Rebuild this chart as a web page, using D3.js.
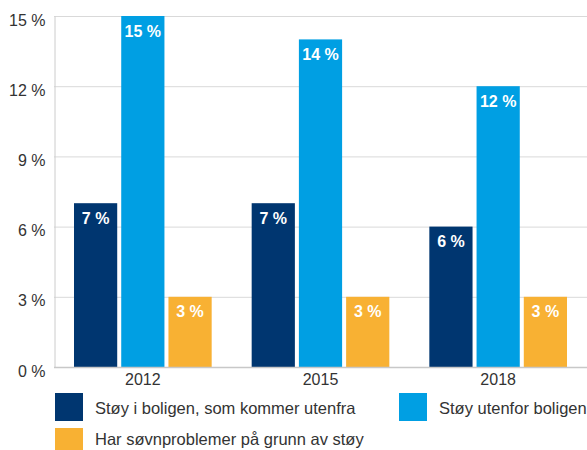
<!DOCTYPE html>
<html>
<head>
<meta charset="utf-8">
<script src="https://cdn.jsdelivr.net/npm/d3@7"></script>
<style>
  html, body { margin: 0; padding: 0; background: #fff; }
  svg { display: block; font-family: "Liberation Sans", Arial, sans-serif; }
</style>
</head>
<body>
<svg id="chart" width="587" height="450"></svg>
<script>
const years = ["2012", "2015", "2018"];
const seriesNames = [
  "Støy i boligen, som kommer utenfra",
  "Støy utenfor boligen",
  "Har søvnproblemer på grunn av støy"
];
const indoorNoise = [7, 7, 6];
const outdoorNoise = [15, 14, 12];
const sleepProblems = [3, 3, 3];
const yTicks = [0, 3, 6, 9, 12, 15];
const colors = ["#003670", "#009FE3", "#F8B133"];

const seriesValues = [indoorNoise, outdoorNoise, sleepProblems];

const svg = d3.select("#chart");
const margin = { left: 54, right: 0, top: 16, bottom: 83 };
const W = 587, H = 450;
const FONT = "Liberation Sans, Arial, sans-serif";

const x = d3.scaleBand().domain(years).range([margin.left, W - margin.right]).paddingInner(0).paddingOuter(0);
const xInner = d3.scaleBand().domain(d3.range(3)).range([20, x.bandwidth() - 20]).paddingInner(0.085);
const y = d3.scaleLinear().domain([0, 15]).range([H - margin.bottom, margin.top]);

// grid
svg.append("g").selectAll("line").data(yTicks.filter(d => d > 0)).join("line")
  .attr("x1", margin.left).attr("x2", W)
  .attr("y1", d => y(d) + 0.5).attr("y2", d => y(d) + 0.5)
  .attr("stroke", "#d9d9d9").attr("stroke-width", 1);

// bars with value labels
const groups = svg.append("g").selectAll("g").data(years).join("g")
  .attr("transform", d => `translate(${x(d)},0)`);

groups.each(function(yr, i) {
  const g = d3.select(this);
  seriesValues.forEach((vals, s) => {
    const v = vals[i];
    g.append("rect")
      .attr("x", xInner(s)).attr("width", xInner.bandwidth())
      .attr("y", y(v)).attr("height", y(0) - y(v))
      .attr("fill", colors[s]);
    g.append("text")
      .attr("x", xInner(s) + xInner.bandwidth() / 2)
      .attr("y", y(v) + 20.5)
      .attr("text-anchor", "middle")
      .attr("fill", "#fff").attr("font-weight", "bold").attr("font-size", 16)
      .text(v + " %");
  });
});

// y axis
const yAxis = svg.append("g").attr("transform", `translate(${margin.left + 0.5},0)`)
  .call(d3.axisLeft(y).tickValues(yTicks).tickSize(0).tickPadding(9).tickFormat(d => d + " %"));
yAxis.select(".domain").attr("stroke", "#cccccc");
yAxis.selectAll("text").attr("font-size", 16).attr("fill", "#333").attr("font-family", FONT)
  .attr("dy", "0.32em").attr("transform", "translate(0,4)");

// baseline
svg.append("line").attr("x1", margin.left).attr("x2", W)
  .attr("y1", y(0) + 0.5).attr("y2", y(0) + 0.5)
  .attr("stroke", "#c8c8c8").attr("stroke-width", 1.5);

// x axis labels
const xAxis = svg.append("g").attr("transform", `translate(0,${y(0)})`)
  .call(d3.axisBottom(x).tickSize(0).tickPadding(7));
xAxis.select(".domain").remove();
xAxis.selectAll("text").attr("font-size", 16).attr("fill", "#333").attr("font-family", FONT);

// legend
const legendPos = [[55, 393, 21], [399, 393, 21], [55, 428, 17]];
const legend = svg.append("g").selectAll("g").data(seriesNames).join("g")
  .attr("transform", (d, i) => `translate(${legendPos[i][0]},${legendPos[i][1]})`);
legend.append("rect").attr("width", 28).attr("height", 28).attr("fill", (d, i) => colors[i]);
legend.append("text").attr("x", 40).attr("y", (d, i) => legendPos[i][2])
  .attr("font-size", 16.5).attr("fill", "#333").text(d => d);
</script>
</body>
</html>
